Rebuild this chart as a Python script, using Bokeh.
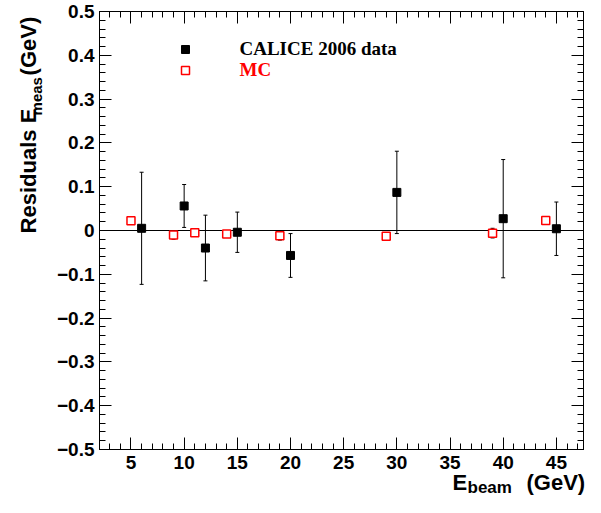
import math
from bokeh.plotting import figure
from bokeh.layouts import row, column
from bokeh.core.properties import value
from bokeh.models import (Range1d, FixedTicker, LinearAxis, Span, Whisker, TeeHead,
                          ColumnDataSource, Legend, LegendItem, CustomJSTickFormatter)
from bokeh.embed import file_html
from bokeh.resources import INLINE

# ---- data ----
data_x = [6, 10, 12, 15, 20, 30, 40, 45]
data_y = [0.005, 0.056, -0.040, -0.004, -0.057, 0.087, 0.027, 0.004]
data_err = [0.128, 0.049, 0.075, 0.046, 0.050, 0.094, 0.135, 0.061]

mc_x = [5, 9, 11, 14, 19, 29, 39, 44]
mc_y = [0.022, -0.010, -0.005, -0.008, -0.012, -0.013, -0.006, 0.023]
mc_err = [0.004, 0.010, 0.008, 0.006, 0.010, 0.008, 0.011, 0.005]

x_ticks = [5, 10, 15, 20, 25, 30, 35, 40, 45]
x_minor = list(range(3, 48))
y_ticks = [-0.5, -0.4, -0.3, -0.2, -0.1, 0.0, 0.1, 0.2, 0.3, 0.4, 0.5]
y_tick_labels = ["\u22120.5", "\u22120.4", "\u22120.3", "\u22120.2", "\u22120.1", "0",
                 "0.1", "0.2", "0.3", "0.4", "0.5"]
y_minor = [round(-0.5 + 0.02 * i, 2) for i in range(51)]

legend_data = "CALICE 2006 data"
legend_mc = "MC"

SANS = "Liberation Sans"
SERIF = "Liberation Serif"

TOTAL_W, TOTAL_H = 585, 497
YT_W = 46            # width of strip holding the y title
MAIN_H = 477         # height of main plot
OVER = 10            # x-title strip overlaps the main plot's bottom border
FL, FB = 99, 449     # frame left / bottom in picture pixels


def fx(sx):
    return sx - FL


def fy(sy):
    return FB - sy


p = figure(width=TOTAL_W - YT_W, height=MAIN_H,
           x_range=Range1d(2.04, 47.55), y_range=Range1d(-0.5, 0.5),
           output_backend="svg", toolbar_location=None,
           min_border_left=FL - YT_W, min_border_right=2, min_border_top=11,
           min_border_bottom=MAIN_H - FB)
p.xgrid.visible = False
p.ygrid.visible = False
p.outline_line_color = "black"
p.outline_line_width = 1
p.outline_line_alpha = 1
p.background_fill_color = "white"
p.border_fill_color = "white"


def style_axis(ax, ticks, minor, labels=True):
    ax.ticker = FixedTicker(ticks=ticks, minor_ticks=minor)
    ax.major_tick_in = 12
    ax.major_tick_out = 0
    ax.minor_tick_in = 6
    ax.minor_tick_out = 0
    ax.axis_line_color = "black"
    ax.major_tick_line_color = "black"
    ax.minor_tick_line_color = "black"
    ax.major_tick_line_width = 1
    ax.minor_tick_line_width = 1
    ax.major_label_text_font = SANS
    ax.major_label_text_font_style = "bold"
    ax.major_label_text_font_size = "19px"
    ax.major_label_text_color = "black"
    if not labels:
        ax.formatter = CustomJSTickFormatter(code="return ''")
        ax.major_label_standoff = 0
        ax.major_label_text_font_size = "1px"


style_axis(p.xaxis[0], x_ticks, x_minor)
p.xaxis[0].major_label_standoff = 6
style_axis(p.yaxis[0], y_ticks, y_minor)
p.yaxis[0].major_label_standoff = 5
p.yaxis[0].major_label_overrides = dict(zip(y_ticks, y_tick_labels))

top_ax = LinearAxis()
style_axis(top_ax, x_ticks, x_minor, labels=False)
p.add_layout(top_ax, "above")
right_ax = LinearAxis()
style_axis(right_ax, y_ticks, y_minor, labels=False)
p.add_layout(right_ax, "right")

# zero line
p.add_layout(Span(location=0, dimension="width", line_color="black", line_width=1.2,
                  level="underlay"))

src_d = ColumnDataSource(dict(x=data_x, y=data_y,
                              lo=[y - e for y, e in zip(data_y, data_err)],
                              hi=[y + e for y, e in zip(data_y, data_err)]))
src_m = ColumnDataSource(dict(x=mc_x, y=mc_y,
                              lo=[y - e for y, e in zip(mc_y, mc_err)],
                              hi=[y + e for y, e in zip(mc_y, mc_err)]))

for src in (src_d, src_m):
    p.add_layout(Whisker(base="x", upper="hi", lower="lo", source=src, dimension="height",
                         line_color="black", line_width=1,
                         upper_head=TeeHead(size=4, line_color="black", line_width=1),
                         lower_head=TeeHead(size=4, line_color="black", line_width=1),
                         level="underlay"))

r_d = p.scatter(x="x", y="y", source=src_d, marker="square", size=8,
                fill_color="black", line_color="black", line_width=1)
r_m = p.scatter(x="x", y="y", source=src_m, marker="square", size=8,
                fill_color="white", line_color="red", line_width=1.5)


def make_legend(label, rend, color, loc):
    return Legend(items=[LegendItem(label=label, renderers=[rend])], location=loc,
                  padding=0, margin=0, spacing=0, glyph_width=20, glyph_height=24,
                  label_height=24, label_standoff=45, label_text_font=SERIF,
                  label_text_font_style="bold", label_text_font_size="19px",
                  label_text_color=color, border_line_alpha=0, background_fill_alpha=0)


p.add_layout(make_legend(legend_data, r_d, "black", (fx(174.5), fy(36.5) - 24)))
p.add_layout(make_legend(legend_mc, r_m, "red", (fx(174.5), fy(57.5) - 24)))


def text_strip(w, h, y0, **kw):
    f = figure(width=w, height=h, x_range=Range1d(0, w), y_range=Range1d(y0 + h, y0),
               output_backend="svg", toolbar_location=None, min_border=0,
               x_axis_location=None, y_axis_location=None, **kw)
    f.outline_line_color = None
    f.background_fill_alpha = 0
    f.border_fill_alpha = 0
    f.grid.visible = False
    return f


def put(f, txt, cx, cy, size, angle=0.0):
    # centre-anchored text piece
    f.text(x=[cx], y=[cy], text=[txt], angle=angle, text_font=value(SANS),
           text_font_style="bold", text_font_size=value(f"{size}px"), text_color="black",
           text_align="center", text_baseline="middle")


MID = 0.3465  # em-box middle above the baseline (Liberation Sans)

# y axis title: Residuals E_meas (GeV), reading upwards
ytf = text_strip(YT_W, MAIN_H, 0)
put(ytf, "Residuals E", 36 - MID * 22, 236 - 124.5 / 2, 22, math.pi / 2)
put(ytf, "meas", 41 - MID * 15, 111.5 - 38.4 / 2, 15, math.pi / 2)
put(ytf, "(GeV)", 36 - MID * 22, 67 - 58.7 / 2, 22, math.pi / 2)

# x axis title: E_beam (GeV)  (strip overlaps the main plot by OVER px, transparent)
xtf = text_strip(TOTAL_W, TOTAL_H - MAIN_H + OVER, MAIN_H - OVER, margin=(-OVER, 0, 0, 0))
put(xtf, "E", 452 + 14.7 / 2, 490 - MID * 22, 22)
put(xtf, "beam", 467 + 44.4 / 2, 492.5 - MID * 17, 17)
put(xtf, "(GeV)", 526 + 58.7 / 2, 490 - MID * 22, 22)

layout = column(row(ytf, p, spacing=0), xtf, spacing=0)
open("out.html", "w").write(file_html(layout, INLINE))
